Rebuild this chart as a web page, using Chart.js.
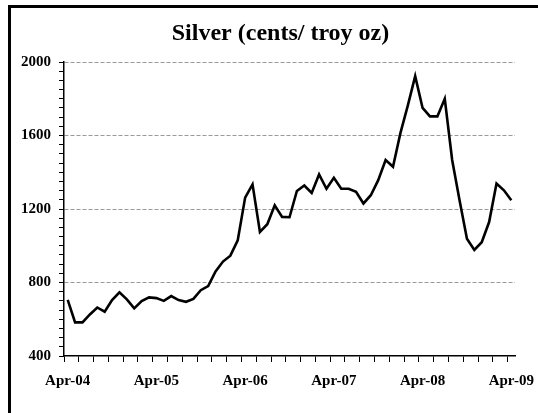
<!DOCTYPE html>
<html>
<head>
<meta charset="utf-8">
<script src="https://cdn.jsdelivr.net/npm/chart.js@4/dist/chart.umd.min.js"></script>
<style>
  html, body { margin: 0; padding: 0; background: #fff; overflow: hidden; }
  #frame { position: absolute; left: 8px; top: 5px; width: 600px; height: 500px; border: 3px solid #000; }
  #chart-area { position: absolute; left: 0; top: 0; }
</style>
</head>
<body>
<div id="frame"></div>
<canvas id="chart-area" width="538" height="413"></canvas>
<script>
// monthly categories, Apr-04 .. Apr-09
const months = [
    'Apr-04', 'May-04', 'Jun-04', 'Jul-04', 'Aug-04', 'Sep-04', 'Oct-04', 'Nov-04', 'Dec-04',
    'Jan-05', 'Feb-05', 'Mar-05', 'Apr-05', 'May-05', 'Jun-05', 'Jul-05', 'Aug-05', 'Sep-05', 'Oct-05', 'Nov-05', 'Dec-05',
    'Jan-06', 'Feb-06', 'Mar-06', 'Apr-06', 'May-06', 'Jun-06', 'Jul-06', 'Aug-06', 'Sep-06', 'Oct-06', 'Nov-06', 'Dec-06',
    'Jan-07', 'Feb-07', 'Mar-07', 'Apr-07', 'May-07', 'Jun-07', 'Jul-07', 'Aug-07', 'Sep-07', 'Oct-07', 'Nov-07', 'Dec-07',
    'Jan-08', 'Feb-08', 'Mar-08', 'Apr-08', 'May-08', 'Jun-08', 'Jul-08', 'Aug-08', 'Sep-08', 'Oct-08', 'Nov-08', 'Dec-08',
    'Jan-09', 'Feb-09', 'Mar-09', 'Apr-09'
];
// silver price, cents per troy oz
const silver = [
    705, 583, 583, 626, 664, 641, 704, 746, 708,
    659, 699, 719, 715, 700, 726, 704, 695, 711, 758, 780, 860,
    914, 946, 1030, 1262, 1334, 1075, 1117, 1220, 1157, 1155, 1298, 1328,
    1287, 1388, 1310, 1370, 1310, 1310, 1293, 1230, 1275, 1357, 1467, 1430,
    1613, 1763, 1923, 1750, 1704, 1704, 1800, 1467, 1248, 1038, 977, 1019,
    1129, 1339, 1302, 1248
];
const xTickLabels = ['Apr-04', 'Apr-05', 'Apr-06', 'Apr-07', 'Apr-08', 'Apr-09'];
const yTickLabels = [400, 800, 1200, 1600, 2000];
const chartTitle = 'Silver (cents/ troy oz)';

const serif = 'Liberation Serif, Times New Roman, serif';

// title is drawn by hand so it can sit a bit right of the plot centre, like the original
const titlePlugin = {
    id: 'silverTitle',
    afterDraw: function(chart) {
        const c = chart.ctx;
        c.save();
        c.font = 'bold 24px ' + serif;
        c.fillStyle = '#000';
        c.textAlign = 'center';
        c.textBaseline = 'alphabetic';
        c.fillText(chartTitle, 280.5, 39.5);
        c.restore();
    }
};

var config = {
    type: 'line',
    data: {
        labels: months,
        datasets: [{
            label: 'Silver',
            data: silver,
            borderColor: '#000',
            borderWidth: 2.6,
            pointRadius: 0,
            tension: 0,
            fill: false
        }]
    },
    options: {
        responsive: false,
        animation: false,
        layout: {
            padding: { left: 13, right: 23, top: 62, bottom: 13 }
        },
        plugins: {
            legend: { display: false },
            tooltip: { enabled: false },
            title: { display: false }
        },
        scales: {
            x: {
                type: 'category',
                offset: true,
                afterFit: function(scale) {
                    scale.paddingLeft = 0;
                    scale.paddingRight = 0;
                },
                grid: {
                    offset: true,
                    drawOnChartArea: false,
                    drawTicks: true,
                    tickLength: 6,
                    tickWidth: 1,
                    color: function(ctx) {
                        return ctx.index % 2 === 0 ? '#000' : 'rgba(0,0,0,0)';
                    }
                },
                border: { display: true, color: '#000', width: 1.5 },
                ticks: {
                    autoSkip: false,
                    maxRotation: 0,
                    padding: 10,
                    color: '#000',
                    font: { family: serif, size: 15, weight: 'bold' },
                    callback: function(value, index) {
                        const lab = months[index];
                        return xTickLabels.includes(lab) ? lab : '';
                    }
                }
            },
            y: {
                min: 400,
                max: 2000,
                grid: {
                    drawTicks: true,
                    tickLength: 5,
                    tickWidth: 1,
                    lineWidth: 1,
                    tickColor: '#000',
                    color: function(ctx) {
                        const v = ctx.tick ? ctx.tick.value : 0;
                        return (yTickLabels.includes(v) && v > 400) ? '#9a9a9a' : 'rgba(0,0,0,0)';
                    }
                },
                border: { display: true, color: '#000', width: 1.5, dash: [4, 2] },
                ticks: {
                    stepSize: 50,
                    autoSkip: false,
                    padding: 8,
                    color: '#000',
                    font: { family: serif, size: 15, weight: 'bold' },
                    callback: function(value) {
                        return yTickLabels.includes(value) ? value : '';
                    }
                }
            }
        }
    },
    plugins: [titlePlugin]
};

window.onload = function() {
    var ctx = document.getElementById('chart-area').getContext('2d');
    window.myLine = new Chart(ctx, config);
};
</script>
</body>
</html>
